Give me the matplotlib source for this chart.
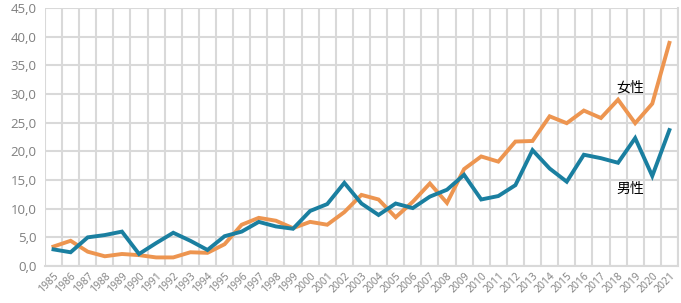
import numpy as np
import matplotlib
matplotlib.use("Agg")
import matplotlib.pyplot as plt
from matplotlib.ticker import FuncFormatter, FixedLocator

plt.rcParams['font.family'] = ['Open Sans', 'Noto Sans CJK JP', 'DejaVu Sans']

########## data ##########
years = list(range(1985, 2022))
male = [2.9, 2.4, 5.0, 5.4, 6.0, 2.1, 4.0, 5.8, 4.4, 2.8,
        5.2, 6.0, 7.7, 6.9, 6.5, 9.6, 10.8, 14.5, 10.9, 8.9,
        10.9, 10.1, 12.1, 13.3, 15.9, 11.6, 12.2, 14.1, 20.2, 17.0,
        14.7, 19.4, 18.8, 18.0, 22.3, 15.7, 23.7]
female = [3.4, 4.4, 2.5, 1.7, 2.1, 1.9, 1.5, 1.5, 2.4, 2.3,
          3.8, 7.2, 8.4, 7.9, 6.6, 7.7, 7.2, 9.4, 12.4, 11.6,
          8.5, 11.2, 14.4, 11.0, 16.9, 19.1, 18.2, 21.7, 21.8, 26.1,
          24.9, 27.1, 25.8, 29.0, 24.9, 28.3, 38.9]
yticks = [0, 5, 10, 15, 20, 25, 30, 35, 40, 45]

blue = '#1a7fa0'
orange = '#ed9550'
grid_c = '#d9d9d9'
txt_c = '#7f7f7f'

fig = plt.figure(figsize=(6.81, 3.03), dpi=100)
ax = fig.add_axes([0.066, 0.122, 0.9295, 0.852])

x = np.arange(len(years))
ax.plot(x, female, color=orange, lw=2.8, solid_joinstyle='miter', zorder=3)
ax.plot(x, male, color=blue, lw=2.8, solid_joinstyle='miter', zorder=4)

ax.set_xlim(-0.5, len(years) - 0.5)
ax.set_ylim(0, 45)
ax.set_yticks(yticks)
ax.yaxis.set_major_formatter(FuncFormatter(lambda v, p: '{:.1f}'.format(v).replace('.', ',')))
ax.set_xticks(x)
ax.set_xticklabels([str(y) for y in years], rotation=45, ha='right',
                   rotation_mode='anchor', fontsize=7.5, color=txt_c)
ax.xaxis.set_minor_locator(FixedLocator(np.arange(-0.5, len(years), 1.0)))

ax.tick_params(axis='y', length=0, labelsize=9.5, colors=txt_c, pad=6)
ax.tick_params(axis='x', which='major', length=0, pad=3)
ax.tick_params(axis='x', which='minor', length=0)

ax.grid(axis='y', color=grid_c, lw=1.5)
ax.grid(axis='x', which='minor', color=grid_c, lw=1.5)
ax.grid(axis='x', which='major', visible=False)
for s in ax.spines.values():
    s.set_visible(False)
ax.spines['bottom'].set_visible(True)
ax.spines['bottom'].set_color(grid_c)
ax.spines['bottom'].set_linewidth(1.5)
ax.spines['right'].set_visible(True)
ax.spines['right'].set_color(grid_c)
ax.spines['right'].set_linewidth(1.5)
ax.set_axisbelow(True)

ax.text(33.7, 31.1, '女性', fontsize=10, ha='center', va='center',
        family=['Noto Sans CJK JP', 'DejaVu Sans'])
ax.text(33.7, 13.4, '男性', fontsize=10, ha='center', va='center',
        family=['Noto Sans CJK JP', 'DejaVu Sans'])

fig.savefig('out.png', dpi=100)
